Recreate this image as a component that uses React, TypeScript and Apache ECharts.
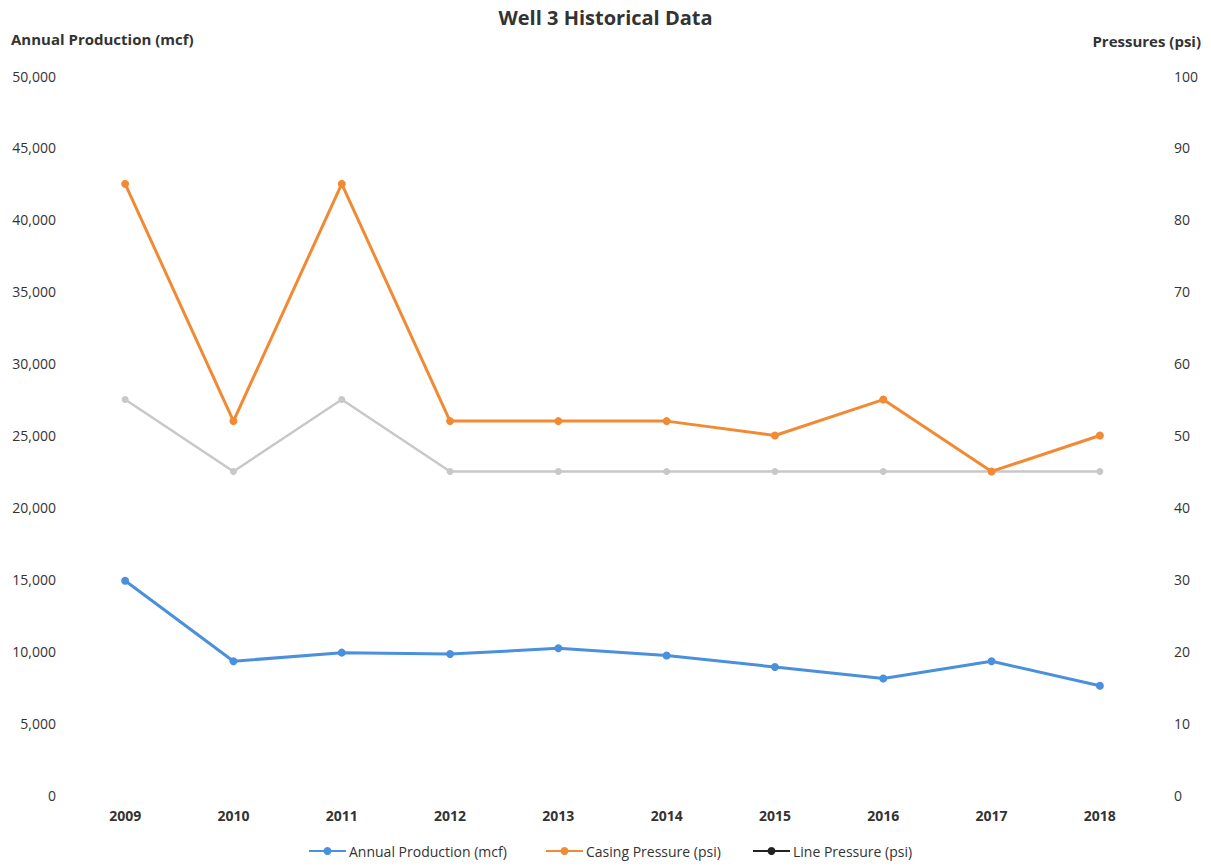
import React, { useEffect, useRef } from "react";
import * as echarts from "echarts";

const years = ["2009", "2010", "2011", "2012", "2013", "2014", "2015", "2016", "2017", "2018"];
const annualProduction = [14900, 9300, 9900, 9800, 10200, 9700, 8900, 8100, 9300, 7600];
const casingPressure = [85, 52, 85, 52, 52, 52, 50, 55, 45, 50];
const linePressure = [55, 45, 55, 45, 45, 45, 45, 45, 45, 45];

const FONT = "Open Sans";
const TEXT = "#333333";

const legendText = { fontFamily: FONT, fontSize: 14, color: TEXT, padding: [0, 0, 0, -2] };

export default function App() {
  const ref = useRef<HTMLDivElement>(null);

  useEffect(() => {
    if (!ref.current) return;
    const chart = echarts.init(ref.current, undefined, { renderer: "svg" });
    chart.setOption({
      animation: false,
      backgroundColor: "#ffffff",
      textStyle: { fontFamily: FONT },
      title: [
        {
          text: "Well 3 Historical Data",
          left: "center",
          top: 2,
          textStyle: { fontFamily: FONT, fontSize: 20, fontWeight: "bold", color: TEXT },
        },
        {
          text: "Annual Production (mcf)",
          left: 6,
          top: 26,
          textStyle: { fontFamily: FONT, fontSize: 15, fontWeight: "bold", color: TEXT },
        },
        {
          text: "Pressures (psi)",
          right: 5,
          top: 28,
          textStyle: { fontFamily: FONT, fontSize: 15, fontWeight: "bold", color: TEXT },
        },
      ],
      legend: [
        {
          left: 303,
          top: 839,
          itemWidth: 37,
          itemHeight: 10,
          itemGap: 0,
          textStyle: legendText,
          data: [{ name: "Annual Production (mcf)" }],
        },
        {
          left: 540,
          top: 839,
          itemWidth: 37,
          itemHeight: 10,
          itemGap: 0,
          textStyle: legendText,
          data: [{ name: "Casing Pressure (psi)" }],
        },
        {
          left: 747,
          top: 839,
          itemWidth: 37,
          itemHeight: 10,
          itemGap: 0,
          textStyle: legendText,
          data: [
            {
              name: "Line Pressure (psi)",
              itemStyle: { color: "#222222" },
              lineStyle: { color: "#222222" },
            },
          ],
        },
      ],
      grid: { left: 71, right: 57, top: 76, bottom: 72 },
      xAxis: {
        type: "category",
        data: years,
        boundaryGap: true,
        axisLine: { show: false },
        axisTick: { show: false },
        axisLabel: { margin: 13, fontFamily: FONT, fontSize: 14, fontWeight: "bold", color: TEXT },
      },
      yAxis: [
        {
          type: "value",
          min: 0,
          max: 50000,
          interval: 5000,
          axisLine: { show: false },
          axisTick: { show: false },
          splitLine: { show: false },
          axisLabel: {
            margin: 15,
            fontFamily: FONT,
            fontSize: 14,
            color: TEXT,
            formatter: (v: number) => v.toLocaleString("en-US"),
          },
        },
        {
          type: "value",
          min: 0,
          max: 100,
          interval: 10,
          axisLine: { show: false },
          axisTick: { show: false },
          splitLine: { show: false },
          axisLabel: { margin: 20, fontFamily: FONT, fontSize: 14, color: TEXT },
        },
      ],
      series: [
        {
          name: "Annual Production (mcf)",
          type: "line",
          yAxisIndex: 0,
          data: annualProduction,
          symbol: "circle",
          symbolSize: 8,
          lineStyle: { width: 3, color: "#4a90dc" },
          itemStyle: { color: "#4a90dc" },
        },
        {
          name: "Casing Pressure (psi)",
          type: "line",
          yAxisIndex: 1,
          data: casingPressure,
          symbol: "circle",
          symbolSize: 8,
          lineStyle: { width: 3, color: "#f28a33" },
          itemStyle: { color: "#f28a33" },
          z: 3,
        },
        {
          name: "Line Pressure (psi)",
          type: "line",
          yAxisIndex: 1,
          data: linePressure,
          symbol: "circle",
          symbolSize: 7,
          lineStyle: { width: 2.5, color: "#c8c8c8" },
          itemStyle: { color: "#c8c8c8" },
          z: 2,
        },
      ],
    });
    return () => chart.dispose();
  }, []);

  return (
    <div
      ref={ref}
      style={{ position: "fixed", left: 0, top: 0, width: 1211, height: 867, background: "#fff" }}
    />
  );
}
